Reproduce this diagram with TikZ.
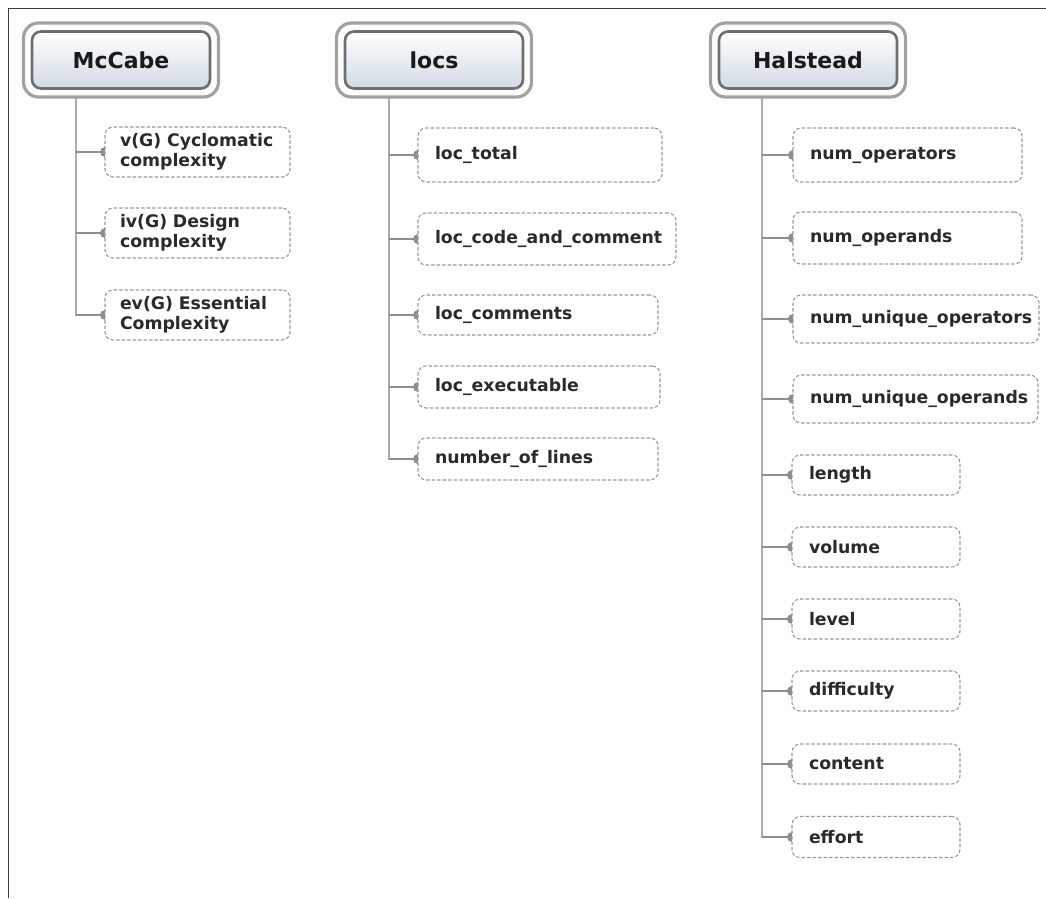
\documentclass[tikz,border=0pt]{standalone}
\usepackage{fontspec}
\setmainfont{DejaVu Sans}
\usetikzlibrary{fit,backgrounds}
\definecolor{headline}{HTML}{6E6E6E}
\definecolor{ringc}{HTML}{A2A2A2}
\definecolor{headfill}{HTML}{D2DAE5}
\definecolor{headtext}{HTML}{1A1A1A}
\definecolor{leafline}{HTML}{9A9A9A}
\definecolor{leaftext}{HTML}{2A2A2A}
\definecolor{trunkc}{HTML}{ABABAB}
\definecolor{branchc}{HTML}{8E8E8E}
\definecolor{framec}{HTML}{3C3C3C}
\hyphenpenalty=10000
\exhyphenpenalty=10000
\begin{document}
\begin{tikzpicture}[x=1pt,y=-1pt,
  head/.style={draw=headline, line width=2.6pt, rounded corners=9pt,
    top color=white, bottom color=headfill, minimum width=178pt,
    minimum height=57pt, outer sep=0pt, text=headtext,
    font=\fontsize{22}{24}\selectfont\bfseries},
  ring/.style={draw=ringc, line width=3.2pt, rounded corners=15pt,
    inner sep=8.5pt, outer sep=0pt},
  leaf/.style={draw=leafline, dash pattern=on 3.5pt off 2pt, line width=1.1pt,
    rounded corners=8pt, fill=white, anchor=west, align=left,
    inner xsep=17pt, inner ysep=0pt, outer sep=0pt, text=leaftext,
    font=\fontsize{17.3}{19.5}\selectfont\bfseries},
  trunk/.style={draw=trunkc, line width=2pt},
  branch/.style={draw=branchc, line width=2pt},
  tip/.style={fill=branchc},
  framing/.style={draw=framec, line width=1.5pt}]
\useasboundingbox (0,0) rectangle (1046,898);

% page frame (top and left edges only)
\draw[framing] (8.5,898) -- (8.5,8.5) -- (1046,8.5);

% category headers
\node[head] (mh) at (121,60) {McCabe};
\node[ring, fit=(mh)] (mr) {};
\node[head] (lh) at (434,60) {locs};
\node[ring, fit=(lh)] (lr) {};
\node[head] (hh) at (808,60) {Halstead};
\node[ring, fit=(hh)] (hr) {};

% McCabe metrics
\node[leaf, text width=155pt, minimum height=50pt, inner xsep=15pt] (m1) at (105,152) {v(G) Cyclomatic\\complexity};
\node[leaf, text width=155pt, minimum height=50pt, inner xsep=15pt] (m2) at (105,233) {iv(G) Design\\complexity};
\node[leaf, text width=155pt, minimum height=50pt, inner xsep=15pt] (m3) at (105,315) {ev(G) Essential\\Complexity};

% line-count metrics
\node[leaf, text width=210pt, minimum height=54pt] (l1) at (418,155) {loc\_total};
\node[leaf, text width=224pt, minimum height=52pt] (l2) at (418,239) {loc\_code\_and\_comment};
\node[leaf, text width=206pt, minimum height=40pt] (l3) at (418,315) {loc\_comments};
\node[leaf, text width=208pt, minimum height=42pt] (l4) at (418,387) {loc\_executable};
\node[leaf, text width=206pt, minimum height=42pt] (l5) at (418,459) {number\_of\_lines};

% Halstead metrics
\node[leaf, text width=195pt, minimum height=54pt] (h1) at (793,155) {num\_operators};
\node[leaf, text width=195pt, minimum height=52pt] (h2) at (793,238) {num\_operands};
\node[leaf, text width=212pt, minimum height=48pt] (h3) at (793,319) {num\_unique\_operators};
\node[leaf, text width=211pt, minimum height=48pt] (h4) at (793,399) {num\_unique\_operands};
\node[leaf, text width=134pt, minimum height=40pt] (h5) at (792,475) {length};
\node[leaf, text width=134pt, minimum height=40pt] (h6) at (792,547) {volume};
\node[leaf, text width=134pt, minimum height=40pt] (h7) at (792,619) {level};
\node[leaf, text width=134pt, minimum height=40pt] (h8) at (792,691) {difficulty};
\node[leaf, text width=134pt, minimum height=40pt] (h9) at (792,764) {content};
\node[leaf, text width=134pt, minimum height=41pt] (h10) at (792,837) {effort};

% trunk start points below each header
\coordinate (mt) at ([xshift=-45pt]mr.south);
\coordinate (lt) at ([xshift=-45pt]lr.south);
\coordinate (ht) at ([xshift=-46pt]hr.south);

% connectors, kept behind the boxes so each tip shows as a half disc
\begin{scope}[on background layer]
  \fill[white] (0,0) rectangle (1046,898);
  \draw[trunk] (mt) |- (m3.west);
  \foreach \n in {m1,m2,m3} {
    \draw[branch] (\n.west -| mt) -- (\n.west);
    \fill[tip] (\n.west) circle (5pt);
  }
  \draw[trunk] (lt) |- (l5.west);
  \foreach \n in {l1,l2,l3,l4,l5} {
    \draw[branch] (\n.west -| lt) -- (\n.west);
    \fill[tip] (\n.west) circle (5pt);
  }
  \draw[trunk] (ht) |- (h10.west);
  \foreach \n in {h1,h2,h3,h4,h5,h6,h7,h8,h9,h10} {
    \draw[branch] (\n.west -| ht) -- (\n.west);
    \fill[tip] (\n.west) circle (5pt);
  }
\end{scope}
\end{tikzpicture}
\end{document}
